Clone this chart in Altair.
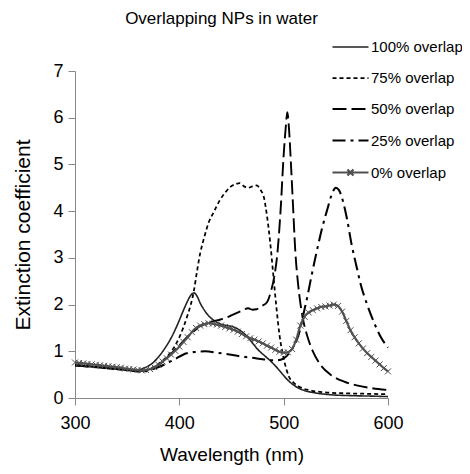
import altair as alt
import pandas as pd

SERIES = ["100% overlap", "75% overlap", "50% overlap", "25% overlap", "0% overlap"]

wl_100 = [300, 310, 320, 330, 340, 350, 356, 362, 368, 374, 380, 386, 392, 398, 404, 408, 411, 414, 417, 420,
          424, 428, 432, 436, 440, 446, 452, 458, 464, 470, 476, 482, 488, 494, 500, 506, 512, 520, 530, 545,
          565, 585, 600]
ext_100 = [0.71, 0.69, 0.67, 0.65, 0.63, 0.61, 0.59, 0.61, 0.66, 0.74, 0.88, 1.06, 1.28, 1.56, 1.88, 2.08, 2.2, 2.25, 2.18, 2.03,
           1.88, 1.76, 1.68, 1.62, 1.58, 1.55, 1.52, 1.45, 1.34, 1.18, 1.02, 0.9, 0.78, 0.64, 0.48, 0.34, 0.24, 0.16, 0.11, 0.07,
           0.05, 0.04, 0.03]

wl_75 = [300, 310, 320, 330, 340, 350, 360, 366, 372, 378, 384, 390, 396, 400, 404, 408, 411, 414, 417, 420,
         424, 428, 433, 439, 444, 449, 454, 458, 462, 466, 470, 474, 478, 481, 484, 487, 490, 493, 496, 500,
         505, 510, 516, 526, 540, 560, 580, 600]
ext_75 = [0.7, 0.68, 0.66, 0.64, 0.62, 0.6, 0.58, 0.59, 0.63, 0.7, 0.8, 0.93, 1.12, 1.3, 1.52, 1.78, 2.0, 2.3, 2.72, 3.1,
          3.45, 3.75, 3.98, 4.24, 4.4, 4.52, 4.58, 4.6, 4.53, 4.5, 4.53, 4.55, 4.45, 4.3, 3.9, 3.35, 2.65, 1.95, 1.35, 0.85,
          0.46, 0.32, 0.23, 0.16, 0.12, 0.1, 0.09, 0.08]

wl_50 = [300, 310, 320, 330, 340, 350, 360, 368, 375, 382, 390, 398, 406, 414, 420, 428, 436, 444, 452, 460,
         466, 470, 474, 479, 484, 488, 491, 494, 497, 500, 502, 503.5, 505, 507, 509, 511, 514, 518, 523, 528,
         535, 545, 558, 570, 585, 600]
ext_50 = [0.7, 0.68, 0.66, 0.64, 0.62, 0.6, 0.58, 0.59, 0.64, 0.74, 0.9, 1.08, 1.27, 1.43, 1.54, 1.61, 1.66, 1.71, 1.79, 1.87,
          1.92, 1.89, 1.9, 1.97, 2.05, 2.3, 2.6, 3.1, 4.0, 5.2, 5.8, 6.12, 5.8, 5.0, 4.1, 3.2, 2.4, 1.75, 1.3, 1.0,
          0.72, 0.5, 0.35, 0.27, 0.21, 0.17]

wl_25 = [300, 310, 320, 330, 340, 350, 360, 366, 372, 382, 394, 407, 417, 425, 436, 448, 459, 470, 480, 488,
         494, 500, 505, 510, 515, 519, 523, 527, 532, 537, 542, 546, 550, 553, 557, 561, 565, 570, 574, 580,
         586, 592, 600]
ext_25 = [0.7, 0.68, 0.66, 0.64, 0.62, 0.6, 0.57, 0.57, 0.6, 0.68, 0.81, 0.96, 0.99, 1.0, 0.97, 0.93, 0.89, 0.86, 0.83, 0.81,
          0.81, 0.85, 0.95, 1.12, 1.4, 1.8, 2.2, 2.65, 3.17, 3.65, 4.05, 4.35, 4.5, 4.45, 4.2, 3.8, 3.3, 2.8, 2.42, 2.0,
          1.65, 1.35, 1.08]

wl_0 = list(range(300, 604, 4))
ext_0 = [0.76, 0.75, 0.74, 0.73, 0.72, 0.71, 0.70, 0.69, 0.68, 0.67,
         0.66, 0.65, 0.63, 0.62, 0.61, 0.60, 0.59, 0.60, 0.62, 0.66,
         0.71, 0.78, 0.85, 0.93, 1.01, 1.10, 1.20, 1.30, 1.41, 1.50,
         1.55, 1.58, 1.60, 1.59, 1.57, 1.55, 1.52, 1.49, 1.46, 1.42,
         1.37, 1.32, 1.28, 1.25, 1.21, 1.17, 1.12, 1.08, 1.03, 0.99,
         0.97, 0.98, 1.05, 1.25, 1.55, 1.74, 1.83, 1.88, 1.92, 1.95,
         1.96, 1.98, 2.00, 1.97, 1.85, 1.65, 1.45, 1.30, 1.17, 1.06,
         0.96, 0.88, 0.80, 0.72, 0.64, 0.57]

x_ticks = [300, 400, 500, 600]
y_ticks = [0, 1, 2, 3, 4, 5, 6, 7]

frames = []
for name, wl, ext in zip(SERIES, [wl_100, wl_75, wl_50, wl_25, wl_0], [ext_100, ext_75, ext_50, ext_25, ext_0]):
    frames.append(pd.DataFrame({"wl": wl, "ext": ext, "series": name}))
df = pd.concat(frames, ignore_index=True)
df0 = df[df["series"] == "0% overlap"]

FONT = "Liberation Sans"
colors = ["#222222", "#000000", "#000000", "#000000", "#505050"]
dashes = [[1, 0], [4, 3], [14, 5], [13, 5, 3, 5], [1, 0]]
widths = [1.6, 2.2, 2.2, 2.2, 2.0]
LINE = "M-1.5,0L1.5,0"
LINE_X = "M-1.5,0L1.5,0M-0.25,-0.25L0.25,0.25M-0.25,0.25L0.25,-0.25"
shapes = [LINE, LINE, LINE, LINE, LINE_X]

leg = alt.Legend(orient="none", legendX=262, legendY=-37, title=None,
                 labelFont=FONT, labelFontSize=15, labelColor="#000000",
                 labelOffset=7, rowPadding=10, symbolSize=576, padding=0,
                 symbolFillColor="transparent", symbolOpacity=1)

x_enc = alt.X("wl:Q", scale=alt.Scale(domain=[300, 600], nice=False, zero=False),
              axis=alt.Axis(values=x_ticks, title="Wavelength (nm)", format="d", labelFlush=False,
                            labelPadding=9, titlePadding=13, titleFontSize=19))
y_enc = alt.Y("ext:Q", scale=alt.Scale(domain=[0, 7], nice=False),
              axis=alt.Axis(values=y_ticks, title="Extinction coefficient", format="d", labelFlush=False,
                            labelPadding=5, titlePadding=19, titleFontSize=21))

stroke_enc = alt.Stroke("series:N", scale=alt.Scale(domain=SERIES, range=colors), legend=leg)
dash_enc = alt.StrokeDash("series:N", scale=alt.Scale(domain=SERIES, range=dashes), legend=leg)
width_enc = alt.StrokeWidth("series:N", scale=alt.Scale(domain=SERIES, range=widths), legend=leg)

lines = alt.Chart(df).mark_line(interpolate="monotone").encode(
    x=x_enc, y=y_enc, stroke=stroke_enc, strokeDash=dash_enc, strokeWidth=width_enc,
)

markers = alt.Chart(df0).mark_point(
    shape="M-1,-1L1,1M-1,1L1,-1", size=36, filled=False, color="#505050", strokeWidth=1.0, opacity=1
).encode(x=x_enc, y=y_enc)

legend_layer = alt.Chart(df).transform_filter("false").mark_point(filled=False, opacity=1).encode(
    x=x_enc, y=y_enc,
    shape=alt.Shape("series:N", scale=alt.Scale(domain=SERIES, range=shapes), legend=leg),
    stroke=stroke_enc, strokeDash=dash_enc, strokeWidth=width_enc,
)

chart = alt.layer(lines, markers, legend_layer).properties(
    width=313, height=327,
    autosize=alt.AutoSizeParams(type="none"),
    padding={"left": 67, "top": 63, "right": 74, "bottom": 68},
    title=alt.TitleParams("Overlapping NPs in water", font=FONT, fontSize=17, fontWeight="normal",
                          color="#000000", anchor="middle", dx=-10, offset=6),
).configure_view(stroke=None).configure_axis(
    grid=False, domainColor="#888888", tickColor="#888888", tickSize=7, domainWidth=1, tickWidth=1,
    labelFont=FONT, labelFontSize=18, labelColor="#000000",
    titleFont=FONT, titleFontWeight="normal", titleColor="#000000",
)

chart.save("out.html", embed_options={"renderer": "svg", "actions": False})
